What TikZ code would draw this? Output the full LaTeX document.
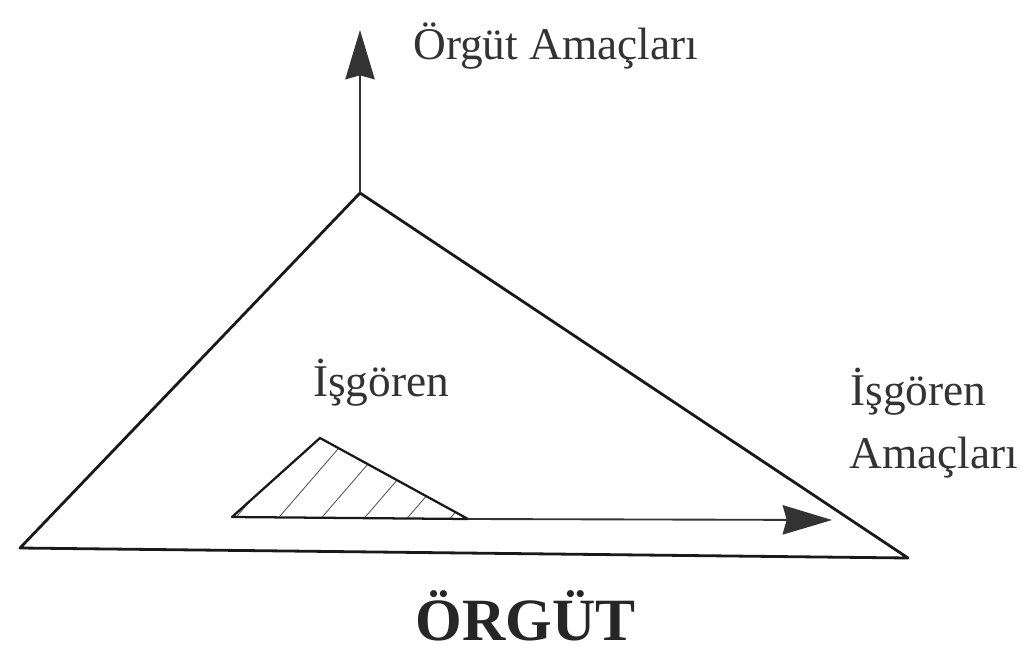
\documentclass[tikz,border=0pt]{standalone}
\usepackage{fontspec}
\setmainfont{Liberation Serif}
\usetikzlibrary{arrows.meta}
\begin{document}
\begin{tikzpicture}[x=0.75pt,y=-0.75pt,
  edge/.style={line width=2.1pt,line join=round,black!90},
  arr/.style={line width=1.4pt,black!80,-{Stealth[length=37pt,width=22pt,inset=3pt]}},
  lbl/.style={font=\fontsize{34}{40}\selectfont,text=black!80,inner sep=0pt},
  hatch/.style={line width=0.6pt,black!70}]
\useasboundingbox[fill=white] (0,0) rectangle (1023,652);
\begin{scope}
\clip (0,0) rectangle (1023,652);
% large triangle
\coordinate (A) at (360,193);
\coordinate (L) at (20,548);
\coordinate (R) at (908,558);
\draw[edge] (A) -- (L) -- (R) -- cycle;
% top arrow
\coordinate (T) at (360,30);
\draw[arr] (A) -- (T);
\node[lbl,anchor=west] (oa) at (413,46) {Örgüt Amaçları};
% small triangle
\coordinate (sa) at (320,438);
\coordinate (sl) at (232,517);
\coordinate (sr) at (468,519);
\begin{scope}
\clip (sa) -- (sl) -- (sr) -- cycle;
\foreach \c in {225,268,311,354,397,440}
  \draw[hatch] (\c,530) -- (\c+95,420);
\end{scope}
\draw[line width=1.7pt,line join=round,black!90] (sa) -- (sl) -- (sr) -- cycle;
% horizontal arrow
\coordinate (H) at (832,520);
\draw[arr] (sr) -- (H);
\node[lbl] (isg) at (381,383) {İşgören};
\node[lbl,anchor=west] (isg2) at (850,392) {İşgören};
\node[lbl,anchor=west] (am2) at (849,458) {Amaçları};
\node[font=\bfseries\fontsize{45}{50}\selectfont,text=black!85,inner sep=0pt] (org) at (526,616) {ÖRGÜT};
\end{scope}
\end{tikzpicture}
\end{document}
